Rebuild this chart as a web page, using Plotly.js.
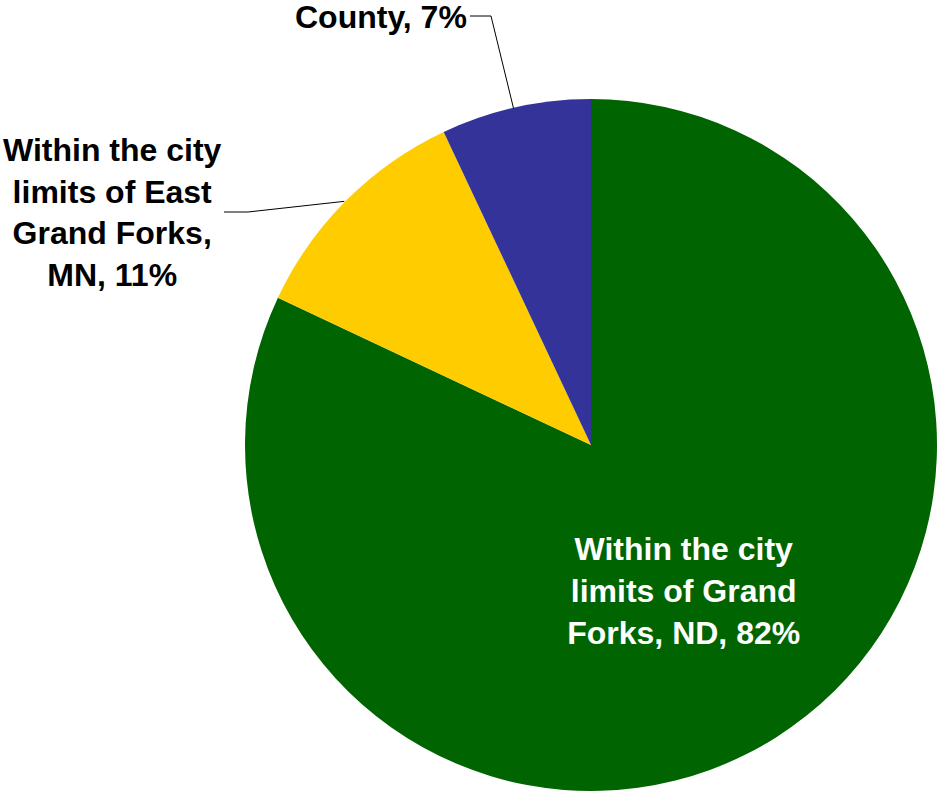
<!DOCTYPE html>
<html>
<head>
<meta charset="utf-8">
<script src="https://cdn.plot.ly/plotly-3.0.1.min.js"></script>
<style>
  html, body { margin: 0; padding: 0; background: #ffffff; }
  #chart { width: 937px; height: 791px; }
</style>
</head>
<body>
<div id="chart"></div>
<script>
// ---- data ----
const categories = [
  "Within the city limits of Grand Forks, ND",
  "Within the city limits of East Grand Forks, MN",
  "County"
];
const values = [82, 11, 7];
const displayLabels = [
  "Within the city<br>limits of Grand<br>Forks, ND, 82%",
  "Within the city<br>limits of East<br>Grand Forks,<br>MN, 11%",
  "County, 7%"
];
const colors = ["#006400", "#FFCC00", "#333399"];

// ---- layout geometry ----
const W = 937, H = 791;
const margin = { l: 245, r: 0, t: 99, b: 0 };
const plotW = W - margin.l - margin.r;
const plotH = H - margin.t - margin.b;
const font = "Liberation Sans, Arial, sans-serif";
const fsize = 32;

// convert pixel to paper coordinates
const px = x => (x - margin.l) / plotW;
const py = y => (H - margin.b - y) / plotH;

// slice mid-angle edge points (clockwise from 12 o'clock)
const total = values.reduce((a, b) => a + b, 0);
const cx = margin.l + plotW / 2, cy = margin.t + plotH / 2;
const R = Math.min(plotW, plotH) / 2;
function edgePoint(i) {
  let before = 0;
  for (let k = 0; k < i; k++) before += values[k];
  const frac = (before + values[i] / 2) / total;
  const a = frac * 2 * Math.PI;
  return [cx + R * Math.sin(a), cy - R * Math.cos(a)];
}

const eEast = edgePoint(1);
const eCounty = edgePoint(2);

const shapes = [
  {
    type: "path", xref: "paper", yref: "paper",
    path: `M ${px(224)} ${py(212)} L ${px(248)} ${py(212)} L ${px(eEast[0] - 2)} ${py(eEast[1] + 1)}`,
    line: { color: "#000000", width: 1 }
  },
  {
    type: "path", xref: "paper", yref: "paper",
    path: `M ${px(470)} ${py(16)} L ${px(491)} ${py(16)} L ${px(eCounty[0] - 2)} ${py(eCounty[1] + 1)}`,
    line: { color: "#000000", width: 1 }
  }
];

const annotations = [
  {
    xref: "paper", yref: "paper",
    x: px(112), y: py(212),
    xanchor: "center", yanchor: "middle",
    text: displayLabels[1], showarrow: false, align: "center",
    font: { family: font, size: fsize, color: "#000000", weight: "bold" }
  },
  {
    xref: "paper", yref: "paper",
    x: px(469), y: py(17),
    xanchor: "right", yanchor: "middle",
    text: displayLabels[2], showarrow: false, align: "right",
    font: { family: font, size: fsize, color: "#000000", weight: "bold" }
  }
];

const trace = {
  type: "pie",
  labels: categories,
  values: values,
  text: displayLabels,
  texttemplate: ["<b>%{text}</b>", "", ""],
  textinfo: "text",
  textposition: ["inside", "none", "none"],
  insidetextorientation: "horizontal",
  insidetextfont: { family: font, size: fsize, color: "#ffffff" },
  marker: { colors: colors, line: { width: 0 } },
  sort: false,
  direction: "clockwise",
  rotation: 0,
  hole: 0,
  showlegend: false,
  hoverinfo: "label+percent"
};

const layout = {
  width: W, height: H,
  margin: margin,
  paper_bgcolor: "#ffffff",
  plot_bgcolor: "#ffffff",
  showlegend: false,
  shapes: shapes,
  annotations: annotations,
  font: { family: font }
};

Plotly.newPlot("chart", [trace], layout, { displayModeBar: false, staticPlot: true });
</script>
</body>
</html>
